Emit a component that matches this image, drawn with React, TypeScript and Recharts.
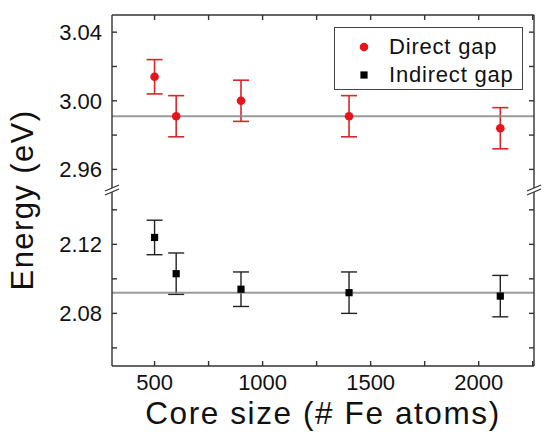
import React from 'react';
import { ComposedChart, Scatter, ErrorBar, XAxis, YAxis, ReferenceLine } from 'recharts';

// core size (# Fe atoms)
const coreSizes = [500, 600, 900, 1400, 2100];
const directGap = [3.014, 2.991, 3.0, 2.991, 2.984];
const directErr = [0.01, 0.012, 0.012, 0.012, 0.012];
const indirectGap = [2.124, 2.103, 2.094, 2.092, 2.09];
const indirectErr = [0.01, 0.012, 0.01, 0.012, 0.012];
const directMean = 2.991;
const indirectMean = 2.092;

const xTicks = [500, 750, 1000, 1250, 1500, 1750, 2000, 2250];
const xLabels = [500, 1000, 1500, 2000];
const topTicks = [2.96, 2.98, 3.0, 3.02, 3.04];
const topLabels = [2.96, 3.0, 3.04];
const bottomTicks = [2.06, 2.08, 2.1, 2.12, 2.14];
const bottomLabels = [2.08, 2.12];

const directData = coreSizes.map((x, i) => ({ x, y: directGap[i], err: directErr[i] }));
const indirectData = coreSizes.map((x, i) => ({ x, y: indirectGap[i], err: indirectErr[i] }));

const FONT = '"Liberation Sans", Arial, Helvetica, sans-serif';
const AXIS = '#333';
const RED = '#e8141c';
const LINE = '#8a8a8a';
const X_DOMAIN = [303, 2256];
const PLOT_LEFT = 112;
const PLOT_RIGHT = 534;
const BREAK_Y = 190;

const tickStyle = { fontSize: 22, fill: '#111', fontFamily: FONT };

const fmt = (labels: number[]) => (v: number) =>
  labels.some((l) => Math.abs(l - v) < 1e-9) ? v.toFixed(labels[0] >= 100 ? 0 : 2) : '';

const Dot = (props: any) => <circle cx={props.cx} cy={props.cy} r={4.3} fill={RED} />;
const Square = (props: any) => (
  <rect x={props.cx - 3.6} y={props.cy - 3.6} width={7.2} height={7.2} fill="#000" />
);

const LegendBox = () => (
  <div
    style={{
      width: 189,
      height: 63,
      border: '1px solid #444',
      background: '#fff',
      fontFamily: FONT,
      fontSize: 22,
      color: '#111',
      boxSizing: 'border-box',
      paddingTop: 5,
    }}
  >
    {[
      { name: 'Direct gap', marker: <circle cx={6} cy={6} r={4.3} fill={RED} /> },
      { name: 'Indirect gap', marker: <rect x={2.4} y={2.4} width={7.2} height={7.2} fill="#000" /> },
    ].map((item) => (
      <div key={item.name} style={{ display: 'flex', alignItems: 'center', height: 28 }}>
        <svg width={12} height={12} style={{ marginLeft: 23, marginRight: 19 }}>
          {item.marker}
        </svg>
        <span style={{ letterSpacing: 0.8 }}>{item.name}</span>
      </div>
    ))}
  </div>
);

export default function App() {
  return (
    <div
      style={{
        position: 'absolute',
        left: 0,
        top: 0,
        width: 544,
        height: 432,
        background: '#fff',
        fontFamily: FONT,
        overflow: 'hidden',
      }}
    >
      {/* upper panel: direct gap */}
      <div style={{ position: 'absolute', left: 0, top: 0 }}>
        <ComposedChart width={544} height={BREAK_Y} margin={{ top: 0, right: 0, bottom: 0, left: 0 }}>
          <XAxis
            xAxisId="t"
            type="number"
            dataKey="x"
            orientation="top"
            height={15}
            domain={X_DOMAIN}
            ticks={xTicks}
            interval={0}
            allowDataOverflow
            tickFormatter={() => ''}
            tickSize={-5}
            stroke={AXIS}
            strokeWidth={1.4}
          />
          <YAxis
            yAxisId="l"
            type="number"
            domain={[2.948, 3.05]}
            ticks={topTicks}
            interval={0}
            allowDataOverflow
            width={PLOT_LEFT}
            tickSize={-5}
            tickMargin={15}
            tickFormatter={fmt(topLabels)}
            tick={tickStyle}
            stroke={AXIS}
            strokeWidth={1.4}
          />
          <YAxis
            yAxisId="r"
            orientation="right"
            type="number"
            domain={[2.948, 3.05]}
            ticks={topTicks}
            interval={0}
            allowDataOverflow
            width={544 - PLOT_RIGHT}
            tickSize={-5}
            tickFormatter={() => ''}
            stroke={AXIS}
            strokeWidth={1.4}
          />
          <Scatter
            name="Direct gap"
            data={directData}
            xAxisId="t"
            yAxisId="l"
            dataKey="y"
            shape={Dot}
            isAnimationActive={false}
          >
            <ErrorBar dataKey="err" direction="y" width={8} stroke="#d8262c" strokeWidth={1.6} isAnimationActive={false} />
          </Scatter>
          <ReferenceLine xAxisId="t" yAxisId="l" y={directMean} stroke={LINE} strokeWidth={2} strokeOpacity={0.85} />
        </ComposedChart>
      </div>

      {/* lower panel: indirect gap */}
      <div style={{ position: 'absolute', left: 0, top: BREAK_Y }}>
        <ComposedChart width={544} height={432 - BREAK_Y} margin={{ top: 0, right: 0, bottom: 0, left: 0 }}>
          <XAxis
            xAxisId="b"
            type="number"
            dataKey="x"
            height={66}
            domain={X_DOMAIN}
            ticks={xTicks}
            interval={0}
            allowDataOverflow
            tickFormatter={fmt(xLabels)}
            tickSize={-5}
            tickMargin={13}
            tick={tickStyle}
            stroke={AXIS}
            strokeWidth={1.4}
            label={{
              value: 'Core size (# Fe atoms)',
              position: 'insideBottom',
              offset: 8,
              style: { fontSize: 31.5, fill: '#111', fontFamily: FONT, letterSpacing: 1.6 },
            }}
          />
          <YAxis
            yAxisId="l"
            type="number"
            domain={[2.0495, 2.1515]}
            ticks={bottomTicks}
            interval={0}
            allowDataOverflow
            width={PLOT_LEFT}
            tickSize={-5}
            tickMargin={15}
            tickFormatter={fmt(bottomLabels)}
            tick={tickStyle}
            stroke={AXIS}
            strokeWidth={1.4}
          />
          <YAxis
            yAxisId="r"
            orientation="right"
            type="number"
            domain={[2.0495, 2.1515]}
            ticks={bottomTicks}
            interval={0}
            allowDataOverflow
            width={544 - PLOT_RIGHT}
            tickSize={-5}
            tickFormatter={() => ''}
            stroke={AXIS}
            strokeWidth={1.4}
          />
          <Scatter
            name="Indirect gap"
            data={indirectData}
            xAxisId="b"
            yAxisId="l"
            dataKey="y"
            shape={Square}
            isAnimationActive={false}
          >
            <ErrorBar dataKey="err" direction="y" width={8} stroke="#222" strokeWidth={1.4} isAnimationActive={false} />
          </Scatter>
          <ReferenceLine xAxisId="b" yAxisId="l" y={indirectMean} stroke={LINE} strokeWidth={2} strokeOpacity={0.85} />
        </ComposedChart>
      </div>

      {/* legend */}
      <div style={{ position: 'absolute', left: 334, top: 27 }}>
        <LegendBox />
      </div>

      {/* axis breaks and y label */}
      <svg width={544} height={432} style={{ position: 'absolute', left: 0, top: 0, pointerEvents: 'none' }}>
        {[PLOT_LEFT, PLOT_RIGHT].map((x) => (
          <g key={x}>
            <polygon
              points={`${x - 7},${BREAK_Y + 1} ${x + 7},${BREAK_Y - 5} ${x + 7},${BREAK_Y - 1} ${x - 7},${BREAK_Y + 5}`}
              fill="#fff"
            />
            <line x1={x - 7} y1={BREAK_Y + 1} x2={x + 7} y2={BREAK_Y - 5} stroke={AXIS} strokeWidth={1.3} />
            <line x1={x - 7} y1={BREAK_Y + 5} x2={x + 7} y2={BREAK_Y - 1} stroke={AXIS} strokeWidth={1.3} />
          </g>
        ))}
        <text
          transform="rotate(-90)"
          x={-200}
          y={33}
          textAnchor="middle"
          fontSize={31}
          fill="#111"
          fontFamily={FONT}
          letterSpacing={1.4}
        >
          Energy (eV)
        </text>
      </svg>
    </div>
  );
}
